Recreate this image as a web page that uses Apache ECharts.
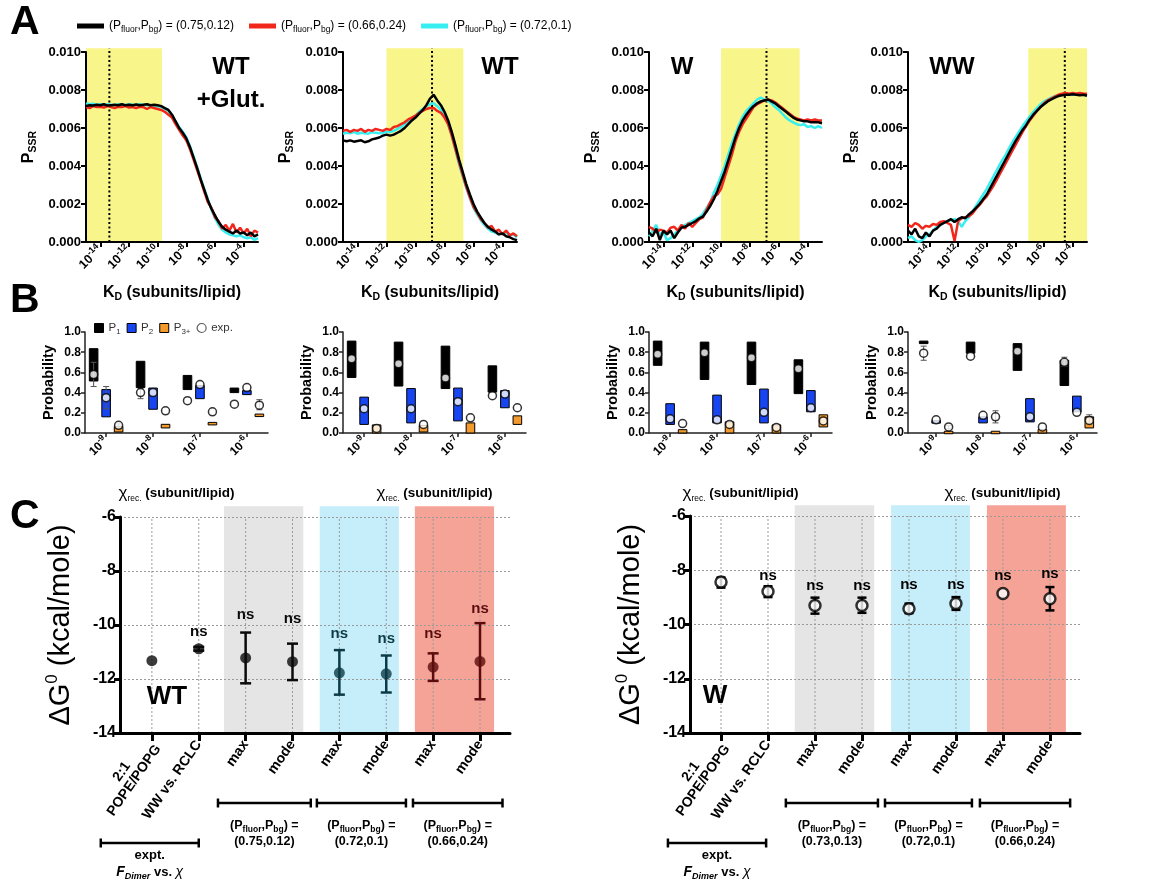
<!DOCTYPE html>
<html>
<head>
<meta charset="utf-8">
<title>Figure</title>
<script src="https://cdn.jsdelivr.net/npm/echarts@6/dist/echarts.min.js"></script>
<style>
html,body{margin:0;padding:0;background:#fff;}
#chart{width:1160px;height:881px;}
</style>
</head>
<body>
<div id="chart"></div>
<script>
// ================= PANEL A : P_SSR (x 1e-3) vs log10(K_D) =================
const kdLog = [-15,-14.75,-14.5,-14.25,-14,-13.75,-13.5,-13.25,-13,-12.75,-12.5,-12.25,-12,-11.75,-11.5,-11.25,-11,-10.75,-10.5,-10.25,-10,-9.75,-9.5,-9.25,-9,-8.75,-8.5,-8.25,-8,-7.75,-7.5,-7.25,-7,-6.75,-6.5,-6.25,-6,-5.75,-5.5,-5.25,-5,-4.75,-4.5,-4.25,-4,-3.75,-3.5,-3.25,-3];
const kdLogWW = [-15.5,-15.25,-15,-14.75,-14.5,-14.25,-14,-13.75,-13.5,-13.25,-13,-12.75,-12.5,-12.25,-12,-11.75,-11.5,-11.25,-11,-10.75,-10.5,-10.25,-10,-9.75,-9.5,-9.25,-9,-8.75,-8.5,-8.25,-8,-7.75,-7.5,-7.25,-7,-6.75,-6.5,-6.25,-6,-5.75,-5.5,-5.25,-5,-4.75,-4.5,-4.25,-4,-3.75,-3.5,-3.25,-3];
const aTickValues = [-14,-12,-10,-8,-6,-4];

const aWTglutBlack = [7.15,7.2,7.18,7.22,7.2,7.25,7.18,7.2,7.22,7.2,7.25,7.2,7.22,7.2,7.24,7.2,7.22,7.25,7.2,7.22,7.2,7.15,7.05,6.95,6.7,6.35,6.0,5.75,5.45,5.0,4.45,3.9,3.3,2.75,2.2,1.75,1.4,1.05,0.8,0.65,0.55,0.45,0.6,0.45,0.5,0.35,0.5,0.3,0.4];
const aWTglutRed   = [7.1,7.05,7.15,7.1,7.12,7.08,7.15,7.1,7.05,7.12,7.1,7.15,7.08,7.1,7.05,7.12,7.1,7.0,7.1,7.05,7.0,6.95,6.85,6.7,6.55,6.2,5.9,5.6,5.35,4.9,4.35,3.8,3.25,2.65,2.1,1.8,1.3,1.1,0.7,0.9,0.6,0.95,0.5,0.75,0.45,0.7,0.3,0.6,0.5];
const aWTglutCyan  = [7.3,7.25,7.28,7.22,7.25,7.2,7.25,7.22,7.2,7.25,7.22,7.2,7.25,7.22,7.2,7.25,7.22,7.2,7.2,7.18,7.15,7.1,7.0,6.9,6.65,6.35,6.05,5.8,5.5,5.05,4.5,3.95,3.35,2.8,2.25,1.7,1.25,0.9,0.65,0.5,0.4,0.35,0.3,0.35,0.25,0.2,0.25,0.1,0.2];

const aWTBlack = [5.35,5.3,5.35,5.28,5.32,5.35,5.25,5.3,5.4,5.45,5.5,5.6,5.65,5.6,5.65,5.75,5.85,6.0,6.2,6.4,6.55,6.75,6.95,7.2,7.55,7.75,7.45,7.2,6.85,6.4,5.8,5.1,4.35,3.7,3.05,2.5,2.0,1.6,1.3,1.0,0.8,0.65,0.55,0.4,0.45,0.3,0.25,0.15,0.1];
const aWTRed   = [5.85,5.9,5.8,5.9,5.85,5.95,5.8,5.9,5.85,5.95,5.9,5.85,5.95,5.9,6.05,6.1,6.2,6.3,6.45,6.55,6.65,6.8,6.9,7.0,7.05,7.05,6.9,6.8,6.55,6.2,5.6,4.9,4.2,3.55,2.9,2.35,1.85,1.55,1.2,1.0,0.75,0.85,0.55,0.65,0.4,0.6,0.35,0.45,0.3];
const aWTCyan  = [5.7,5.75,5.72,5.78,5.7,5.75,5.72,5.7,5.78,5.75,5.72,5.75,5.8,5.78,5.85,5.95,6.05,6.2,6.35,6.5,6.65,6.85,7.0,7.15,7.25,7.3,7.15,6.95,6.65,6.2,5.6,4.85,4.1,3.45,2.85,2.3,1.8,1.45,1.15,0.9,0.7,0.55,0.5,0.4,0.45,0.5,0.35,0.4,0.25];

const aWBlack = [0.5,0.3,0.7,0.1,0.6,0.4,0.6,0.2,0.5,0.75,0.8,0.9,1.0,1.1,1.25,1.35,1.6,1.9,2.25,2.7,3.2,3.7,4.3,4.9,5.5,6.0,6.4,6.7,6.95,7.15,7.3,7.4,7.45,7.5,7.4,7.3,7.15,7.0,6.85,6.7,6.55,6.45,6.4,6.35,6.35,6.3,6.3,6.3,6.25];
const aWRed   = [0.8,0.7,0.5,0.65,0.6,0.5,0.75,0.8,0.6,0.9,0.7,1.0,0.8,1.0,1.2,1.3,1.7,2.1,2.4,2.5,2.8,3.4,4.0,4.6,5.3,5.8,6.2,6.5,6.8,7.1,7.25,7.35,7.45,7.5,7.45,7.35,7.2,7.05,6.9,6.75,6.6,6.5,6.45,6.4,6.45,6.4,6.45,6.4,6.4];
const aWCyan  = [0.3,0.6,0.9,0.4,0.5,0.1,0.2,0.4,0.6,0.8,0.9,1.0,1.1,1.2,1.3,1.5,1.8,2.1,2.6,3.0,3.5,4.0,4.6,5.2,5.7,6.2,6.6,6.9,7.1,7.3,7.5,7.6,7.5,7.45,7.3,7.1,6.95,6.75,6.55,6.4,6.3,6.2,6.15,6.2,6.05,6.1,6.0,6.1,6.0];

const aWWBlack = [0.6,0.4,0.7,0.3,0.2,0.5,0.3,0.6,0.7,0.9,1.0,1.1,1.2,1.05,1.2,1.3,1.25,1.45,1.6,1.8,2.0,2.25,2.5,2.85,3.2,3.55,3.9,4.25,4.6,4.95,5.3,5.6,5.9,6.15,6.45,6.7,6.9,7.1,7.25,7.4,7.5,7.6,7.68,7.72,7.75,7.75,7.78,7.75,7.72,7.75,7.7];
const aWWRed   = [0.9,0.8,1.0,0.9,0.7,0.85,0.8,0.95,0.9,1.05,1.1,1.0,0.9,0.05,1.1,1.25,1.3,1.35,1.5,1.75,1.95,2.2,2.4,2.7,3.0,3.35,3.7,4.05,4.4,4.75,5.1,5.45,5.8,6.1,6.4,6.65,6.9,7.1,7.3,7.45,7.55,7.65,7.75,7.8,7.85,7.8,7.85,7.8,7.85,7.8,7.8];
const aWWCyan  = [0.2,0.3,0.1,0.0,0.1,0.3,0.4,0.6,0.8,0.9,1.0,1.1,1.15,1.2,1.1,0.8,1.1,1.3,1.6,1.9,2.2,2.5,2.8,3.15,3.5,3.85,4.2,4.5,4.85,5.2,5.5,5.8,6.1,6.35,6.6,6.85,7.05,7.25,7.4,7.5,7.6,7.68,7.72,7.75,7.75,7.78,7.75,7.78,7.75,7.75,7.72];

const aShadeFrom = [-15,-12,-10,-7.1];
const aShadeTo   = [-9.7,-6.7,-4.55,-3];
const aDotted    = [-13.37,-8.86,-6.85,-4.55];
const aLegendNames = ['(Pfluor,Pbg) = (0.75,0.12)','(Pfluor,Pbg) = (0.66,0.24)','(Pfluor,Pbg) = (0.72,0.1)'];

// ================= PANEL B : probabilities =================
const bTickExp = ['-9','-8','-7','-6'];
const bWTglutP1 = [[0.515,0.835],[0.45,0.71],[0.43,0.57],[0.40,0.445]];
const bWTglutP2 = [[0.16,0.43],[0.235,0.445],[0.34,0.47],[0.38,0.42]];
const bWTglutP3 = [[0.01,0.066],[0.05,0.086],[0.08,0.105],[0.17,0.18]];
const bWTglutExp = [[0.58,0.35,0.076],[0.40,0.40,0.22],[0.32,0.48,0.21],[0.285,0.45,0.275]];
const bWTglutErr = [[0,0,0.46,0.70],[0,1,0.24,0.46],[0,2,0.06,0.09],[1,0,0.34,0.44],[3,2,0.23,0.33]];

const bWTP1 = [[0.55,0.91],[0.465,0.90],[0.44,0.86],[0.405,0.665]];
const bWTP2 = [[0.085,0.355],[0.10,0.44],[0.12,0.445],[0.25,0.42]];
const bWTP3 = [[0.0,0.08],[0.01,0.075],[0.0,0.10],[0.085,0.17]];
const bWTExp = [[0.735,0.24,0.045],[0.685,0.24,0.085],[0.545,0.31,0.15],[0.37,0.385,0.25]];
const bWTErr = [];

const bWP1 = [[0.67,0.91],[0.53,0.90],[0.48,0.90],[0.39,0.725]];
const bWP2 = [[0.085,0.29],[0.10,0.375],[0.10,0.435],[0.21,0.42]];
const bWP3 = [[0.0,0.033],[0.0,0.11],[0.0,0.08],[0.06,0.18]];
const bWExp = [[0.78,0.14,0.093],[0.795,0.13,0.085],[0.745,0.205,0.055],[0.635,0.25,0.12]];
const bWErr = [];

const bWWP1 = [[0.885,0.91],[0.79,0.90],[0.62,0.885],[0.47,0.72]];
const bWWP2 = [[0.10,0.12],[0.10,0.16],[0.11,0.34],[0.21,0.365]];
const bWWP3 = [[0.0,0.01],[0.0,0.01],[0.0,0.035],[0.05,0.16]];
const bWWExp = [[0.79,0.13,0.06],[0.76,0.175,0.16],[0.81,0.16,0.06],[0.70,0.205,0.125]];
const bWWErr = [[0,0,0.72,0.86],[0,2,0.04,0.075],[1,2,0.10,0.22],[3,0,0.66,0.75],[3,2,0.09,0.18]];

// ================= PANEL C : Delta G =================
const cCats = ['2:1\nPOPE/POPG','WW vs. RCLC','max','mode','max','mode','max','mode'];
const cPos = [0,1,2,3,4,5,6,7];
const cWTMean = [-11.32,-10.88,-11.22,-11.36,-11.77,-11.81,-11.56,-11.35];
const cWTLo   = [null,-10.95,-12.16,-12.04,-12.58,-12.5,-12.07,-12.75];
const cWTHi   = [null,-10.81,-10.28,-10.69,-10.93,-11.13,-11.05,-9.93];
const cWTns   = [null,-10.25,-9.63,-9.79,-10.34,-10.52,-10.34,-9.41];
const cWMean = [-8.43,-8.78,-9.3,-9.3,-9.42,-9.23,-8.86,-9.05];
const cWLo   = [-8.64,-8.99,-9.6,-9.57,-9.58,-9.46,null,-9.48];
const cWHi   = [-8.27,-8.59,-9.01,-9.01,-9.23,-8.99,null,-8.62];
const cWns   = [null,-8.19,-8.56,-8.56,-8.53,-8.53,-8.19,-8.15];
const cWTShade = [[1.54,3.23],[3.58,5.27],[5.61,7.30]];
const cWShade  = [[1.57,3.26],[3.62,5.30],[5.66,7.34]];
const cWTBrackets = [[-1.09,1.0],[1.41,3.39],[3.52,5.42],[5.57,7.48]];
const cWBrackets  = [[-1.13,0.96],[1.38,3.34],[3.49,5.34],[5.51,7.43]];
const cWTPairs = ['(0.75,0.12)','(0.72,0.1)','(0.66,0.24)'];
const cWPairs  = ['(0.73,0.13)','(0.72,0.1)','(0.66,0.24)'];

// ================= styling / layout =================
const FONT = '"Liberation Sans", Arial, Helvetica, sans-serif';
const curveColors = ['#37eef0','#f2271b','#000000'];
const curveNames = [aLegendNames[2], aLegendNames[1], aLegendNames[0]];
const aCurves = [
  [aWTglutCyan, aWTglutRed, aWTglutBlack],
  [aWTCyan, aWTRed, aWTBlack],
  [aWCyan, aWRed, aWBlack],
  [aWWCyan, aWWRed, aWWBlack]
];
const aXs = [kdLog, kdLog, kdLog, kdLogWW];
const aXMin = [-15,-15,-15,-15.5];
const aShadeTop = 10.2;

const bPanels = [
  {p:[bWTglutP1,bWTglutP2,bWTglutP3], exp:bWTglutExp, err:bWTglutErr},
  {p:[bWTP1,bWTP2,bWTP3], exp:bWTExp, err:bWTErr},
  {p:[bWP1,bWP2,bWP3], exp:bWExp, err:bWErr},
  {p:[bWWP1,bWWP2,bWWP3], exp:bWWExp, err:bWWErr}
];
const bXMin = [-0.45,-0.45,-0.45,-0.6];
const bXMax = [3.45,3.45,3.45,3.43];
const bSlot = [-0.266, 0, 0.266];
const bColors = ['#000000','#1845f2','#f4992c'];
const bNames = ['P1','P2','P3+'];

const cWTColors = ['#0a0a0a','#0a0a0a','#0a0a0a','#0a0a0a','#0b3b46','#0b3b46','#5b0d0d','#5b0d0d'];
const shadeColors = ['#e5e5e5','#c5eefa','#f6a397'];

const grids = [
  {left:86, top:52, width:172, height:190},
  {left:343, top:52, width:174, height:190},
  {left:649, top:52, width:173, height:190},
  {left:908, top:52, width:179, height:190},
  {left:85, top:332, width:183, height:101},
  {left:343, top:332, width:183, height:101},
  {left:649, top:332, width:183, height:101},
  {left:908, top:332, width:189, height:101},
  {left:120, top:517, width:390, height:216},
  {left:690, top:516, width:390, height:217}
].map(g => Object.assign({containLabel:false, outerBoundsMode:'none'}, g));

function supRich(main, small, weight, color) {
  weight = weight || 'bold'; color = color || '#000';
  return {
    b:{fontSize:main, fontWeight:weight, fontFamily:FONT, color:color, lineHeight:main+5},
    s:{fontSize:small, fontWeight:weight, fontFamily:FONT, color:color, lineHeight:small+1, verticalAlign:'top'}
  };
}
function subRich(main, small, weight, color) {
  weight = weight || 'bold'; color = color || '#000';
  return {
    b:{fontSize:main, fontWeight:weight, fontFamily:FONT, color:color, lineHeight:main+4},
    s:{fontSize:small, fontWeight:weight, fontFamily:FONT, color:color, lineHeight:small+1, verticalAlign:'bottom'}
  };
}

const xAxes = [], yAxes = [], series = [];

// ---------- A ----------
for (let p = 0; p < 4; p++) {
  xAxes.push({
    type:'value', gridIndex:p, min:aXMin[p], max:-3,
    axisLine:{show:true, onZero:false, lineStyle:{color:'#000', width:2}},
    axisTick:{show:true, customValues:aTickValues, length:5, lineStyle:{color:'#000', width:2}},
    axisLabel:{show:true, customValues:aTickValues, rotate:45, margin:6,
      formatter: v => '{b|10}{s|' + v + '}', rich:supRich(12.5, 9)},
    splitLine:{show:false},
    name:'{b|K}{s|D}{b| (subunits/lipid)}', nameLocation:'middle', nameGap:41,
    nameTextStyle:{rich:subRich(16, 10.5)}
  });
  yAxes.push({
    type:'value', gridIndex:p, min:0, max:10, interval:2,
    axisLine:{show:true, onZero:false, lineStyle:{color:'#000', width:2}},
    axisTick:{show:true, length:5, lineStyle:{color:'#000', width:2}},
    axisLabel:{formatter: v => (v/1000).toFixed(3), fontSize:13, fontWeight:'bold', color:'#000', fontFamily:FONT, margin:5},
    splitLine:{show:false},
    name:'{b|P}{s|SSR}', nameLocation:'middle', nameGap:47,
    nameTextStyle:{rich:subRich(16, 10.5)}
  });
  series.push({
    type:'custom', xAxisIndex:p, yAxisIndex:p, clip:false, silent:true, z:-1,
    data:[[aShadeFrom[p], aShadeTo[p], aShadeTop]], encode:{x:[0,1], y:2},
    renderItem:(params, api) => {
      const a = api.coord([api.value(0), 0]);
      const b = api.coord([api.value(1), api.value(2)]);
      return {type:'rect', shape:{x:a[0], y:b[1], width:b[0]-a[0], height:a[1]-b[1]}, style:{fill:'#f8f68a'}};
    }
  });
  series.push({
    type:'custom', xAxisIndex:p, yAxisIndex:p, clip:false, silent:true, z:1,
    data:[[aDotted[p], aShadeTop]], encode:{x:0, y:1},
    renderItem:(params, api) => {
      const a = api.coord([api.value(0), 0]);
      const b = api.coord([api.value(0), api.value(1)]);
      return {type:'line', shape:{x1:a[0], y1:a[1], x2:b[0], y2:b[1]}, style:{stroke:'#000', lineWidth:2, lineDash:[2,2.5]}};
    }
  });
  for (let c = 0; c < 3; c++) {
    const xs = aXs[p], ys = aCurves[p][c];
    series.push({
      type:'line', name:curveNames[c], xAxisIndex:p, yAxisIndex:p, silent:true,
      data: xs.map((x, i) => [x, ys[i]]),
      symbol:'none', showSymbol:false, z:2 + c,
      lineStyle:{color:curveColors[c], width:2.5}, itemStyle:{color:curveColors[c]}
    });
  }
}

// ---------- B ----------
function barRender(color) {
  return (params, api) => {
    const x = api.value(0), lo = api.value(1), hi = api.value(2);
    const a = api.coord([x, hi]), b = api.coord([x, lo]);
    let y = a[1], h = b[1] - a[1];
    if (h < 2.5) { y = (a[1] + b[1]) / 2 - 1.25; h = 2.5; }
    return {type:'rect', shape:{x:a[0]-4.3, y:y, width:8.6, height:h}, style:{fill:color, stroke:'#000', lineWidth:1}};
  };
}
function errRender(colorFn, cap, lw) {
  return (params, api) => {
    const x = api.value(0), lo = api.value(1), hi = api.value(2);
    const a = api.coord([x, hi]), b = api.coord([x, lo]);
    const col = colorFn(api);
    const st = {stroke:col, lineWidth:lw};
    return {type:'group', children:[
      {type:'line', shape:{x1:a[0], y1:a[1], x2:b[0], y2:b[1]}, style:st},
      {type:'line', shape:{x1:a[0]-cap/2, y1:a[1], x2:a[0]+cap/2, y2:a[1]}, style:st},
      {type:'line', shape:{x1:b[0]-cap/2, y1:b[1], x2:b[0]+cap/2, y2:b[1]}, style:st}
    ]};
  };
}
for (let p = 0; p < 4; p++) {
  const gi = 4 + p;
  xAxes.push({
    type:'value', gridIndex:gi, min:bXMin[p], max:bXMax[p],
    axisLine:{show:true, onZero:false, lineStyle:{color:'#222', width:1.5}},
    axisTick:{show:true, customValues:[0,1,2,3], length:4, lineStyle:{color:'#222', width:1.5}},
    axisLabel:{show:true, customValues:[0,1,2,3], rotate:45, margin:6,
      formatter: v => '{b|10}{s|' + bTickExp[v] + '}', rich:supRich(12, 8.5)},
    splitLine:{show:false},
    name:'{c|χ}{r|rec.}{b| (subunit/lipid)}', nameLocation:'middle', nameGap:50,
    nameTextStyle:{rich:{
      c:{fontSize:17, fontFamily:FONT, color:'#000', lineHeight:20},
      r:{fontSize:8.5, fontFamily:FONT, color:'#000', lineHeight:9, verticalAlign:'bottom'},
      b:{fontSize:13.5, fontWeight:'bold', fontFamily:FONT, color:'#000', lineHeight:20}
    }}
  });
  yAxes.push({
    type:'value', gridIndex:gi, min:0, max:1, interval:0.2,
    axisLine:{show:true, onZero:false, lineStyle:{color:'#222', width:1.5}},
    axisTick:{show:true, length:4, lineStyle:{color:'#222', width:1.5}},
    axisLabel:{formatter: v => v.toFixed(1), fontSize:12, fontWeight:'bold', color:'#000', fontFamily:FONT, margin:4},
    splitLine:{show:false},
    name:'Probability', nameLocation:'middle', nameGap:29,
    nameTextStyle:{fontSize:14.5, fontWeight:'bold', color:'#000', fontFamily:FONT}
  });
  const P = bPanels[p];
  for (let k = 0; k < 3; k++) {
    series.push({
      type:'custom', name:bNames[k], xAxisIndex:gi, yAxisIndex:gi, silent:true, z:2,
      itemStyle:{color:bColors[k]},
      data: P.p[k].map((r, g) => [g + bSlot[k], r[0], r[1]]), encode:{x:0, y:[1,2]},
      renderItem: barRender(bColors[k])
    });
  }
  if (P.err.length) {
    series.push({
      type:'custom', xAxisIndex:gi, yAxisIndex:gi, silent:true, z:3,
      data: P.err.map(e => [e[0] + bSlot[e[1]], e[2], e[3]]), encode:{x:0, y:[1,2]},
      renderItem: errRender(() => '#555', 6, 1)
    });
  }
  const pts = [];
  P.exp.forEach((row, g) => row.forEach((v, k) => pts.push([g + bSlot[k], v])));
  series.push({
    type:'scatter', name:'exp.', xAxisIndex:gi, yAxisIndex:gi, silent:true, z:4,
    data: pts, symbol:'circle', symbolSize:8,
    itemStyle:{color:'#fff', borderColor:'#000', borderWidth:1.5}
  });
}

// ---------- C ----------
const cPanels = [
  {mean:cWTMean, lo:cWTLo, hi:cWTHi, ns:cWTns, shade:cWTShade, filled:true},
  {mean:cWMean, lo:cWLo, hi:cWHi, ns:cWns, shade:cWShade, filled:false}
];
const cXMin = [-0.68,-0.66];
const cXMax = [7.64,7.64];
const cLabelRich = {
  b:{fontSize:14, fontWeight:'bold', color:'#000', fontFamily:FONT, lineHeight:15},
  c:{fontSize:14, fontWeight:'bold', color:'#000', fontFamily:FONT, lineHeight:15, align:'center'}
};
function cLabel(v) {
  const t = cCats[v];
  if (t.indexOf('\n') >= 0) {
    const parts = t.split('\n');
    return '{c|' + parts[0] + '}\n{b|' + parts[1] + '}';
  }
  return '{b|' + t + '}';
}
for (let p = 0; p < 2; p++) {
  const gi = 8 + p, C = cPanels[p];
  xAxes.push({
    type:'value', gridIndex:gi, min:cXMin[p], max:cXMax[p],
    axisLine:{show:true, onZero:false, lineStyle:{color:'#000', width:3}},
    axisTick:{show:true, customValues:cPos, length:8, lineStyle:{color:'#000', width:3}},
    axisLabel:{show:true, customValues:cPos, rotate:55, margin:9,
      formatter: cLabel, rich:cLabelRich},
    splitLine:{show:false}
  });
  yAxes.push({
    type:'value', gridIndex:gi, min:-14, max:-6, interval:2,
    axisLine:{show:true, onZero:false, lineStyle:{color:'#000', width:3}},
    axisTick:{show:true, length:6, lineStyle:{color:'#000', width:3}},
    axisLabel:{fontSize:16, fontWeight:'bold', color:'#000', fontFamily:FONT, margin:4},
    splitLine:{show:true, lineStyle:{color:'#9a9a9a', width:1, type:[2,2]}},
    name:'{r|ΔG}{sup|0}{r| (kcal/mole)}', nameLocation:'middle', nameGap:42,
    nameTextStyle:{rich:{
      r:{fontSize:29, fontFamily:FONT, color:'#000', lineHeight:34},
      sup:{fontSize:17, fontFamily:FONT, color:'#000', lineHeight:17, verticalAlign:'top'}
    }}
  });
  series.push({
    type:'custom', xAxisIndex:gi, yAxisIndex:gi, clip:false, silent:true, z:-1,
    data: C.shade.map((s, i) => [s[0], s[1], i]), encode:{x:[0,1]},
    renderItem:(params, api) => {
      const a = api.coord([api.value(0), -14]);
      const b = api.coord([api.value(1), -5.6]);
      return {type:'rect', shape:{x:a[0], y:b[1], width:b[0]-a[0], height:a[1]-b[1]}, style:{fill:shadeColors[api.value(2)]}};
    }
  });
  series.push({
    type:'custom', xAxisIndex:gi, yAxisIndex:gi, silent:true, z:0,
    data: cPos.map(v => [v]), encode:{x:0},
    renderItem:(params, api) => {
      const a = api.coord([api.value(0), -14]);
      const b = api.coord([api.value(0), -6]);
      return {type:'line', shape:{x1:a[0], y1:a[1], x2:b[0], y2:b[1]}, style:{stroke:'#9a9a9a', lineWidth:1, lineDash:[2,2]}};
    }
  });
  const eb = [];
  C.mean.forEach((m, i) => { if (C.lo[i] !== null) eb.push([cPos[i], C.lo[i], C.hi[i]]); });
  series.push({
    type:'custom', xAxisIndex:gi, yAxisIndex:gi, silent:true, z:3,
    data: eb, encode:{x:0, y:[1,2]},
    renderItem: errRender(api => C.filled ? cWTColors[api.value(0)] : '#000', C.filled ? 11 : 9, 2.5)
  });
  series.push({
    type:'scatter', xAxisIndex:gi, yAxisIndex:gi, silent:true, z:4,
    symbol:'circle', symbolSize:11,
    data: C.mean.map((m, i) => ({
      value:[cPos[i], m],
      itemStyle: C.filled ? {color:cWTColors[i], borderColor:cWTColors[i], borderWidth:0}
                          : {color:'#fff', borderColor:'#000', borderWidth:2.5}
    }))
  });
  const nsData = [];
  C.ns.forEach((v, i) => { if (v !== null) nsData.push([cPos[i], v]); });
  series.push({
    type:'custom', xAxisIndex:gi, yAxisIndex:gi, silent:true, z:5,
    data: nsData, encode:{x:0, y:1},
    renderItem:(params, api) => {
      const pt = api.coord([api.value(0), api.value(1)]);
      const col = C.filled ? cWTColors[api.value(0)] : '#000';
      return {type:'text', x:pt[0], y:pt[1], style:{text:'ns', fill:col, font:'bold 15px ' + FONT,
        align:'center', verticalAlign:'middle', textAlign:'center', textVerticalAlign:'middle'}};
    }
  });
}

// ---------- legends ----------
const legA = {
  left:72, top:15, orient:'horizontal', itemWidth:27, itemHeight:5, itemGap:15, icon:'rect',
  data:[aLegendNames[0], aLegendNames[1], aLegendNames[2]],
  selectedMode:false,
  formatter: name => '{n|(P}{s|fluor}{n|,P}{s|bg}{n|) = ' + name.split('= ')[1] + '}',
  textStyle:{rich:{
    n:{fontSize:12, fontFamily:FONT, color:'#000', lineHeight:16},
    s:{fontSize:8.5, fontFamily:FONT, color:'#000', lineHeight:9, verticalAlign:'bottom'}
  }}
};
const bLegendText = {'P1':'{n|P}{s|1}', 'P2':'{n|P}{s|2}', 'P3+':'{n|P}{s|3+}', 'exp.':'{n|exp.}'};
const legB = {
  left:89, top:317, orient:'horizontal', itemWidth:9, itemHeight:9, itemGap:6,
  selectedMode:false,
  data:[
    {name:'P1', icon:'rect', itemStyle:{color:'#000', borderColor:'#000', borderWidth:1}},
    {name:'P2', icon:'rect', itemStyle:{color:bColors[1], borderColor:'#000', borderWidth:1}},
    {name:'P3+', icon:'rect', itemStyle:{color:bColors[2], borderColor:'#000', borderWidth:1}},
    {name:'exp.', icon:'circle', itemStyle:{color:'#fff', borderColor:'#333', borderWidth:1.2}}
  ],
  formatter: name => bLegendText[name],
  textStyle:{rich:{
    n:{fontSize:11.5, fontFamily:FONT, color:'#333', lineHeight:15},
    s:{fontSize:8, fontFamily:FONT, color:'#333', lineHeight:9, verticalAlign:'bottom'}
  }}
};

const chart = echarts.init(document.getElementById('chart'), null, {renderer:'canvas'});
chart.setOption({
  animation:false,
  backgroundColor:'#fff',
  textStyle:{fontFamily:FONT},
  tooltip:{show:false},
  grid:grids, xAxis:xAxes, yAxis:yAxes, series:series,
  legend:[legA, legB]
});

// ---------- text annotations ----------
function txt(x, y, text, font, extra) {
  return Object.assign({type:'text', x:x, y:y, silent:true, z:10,
    style:Object.assign({text:text, font:font, fill:'#000', align:'center', verticalAlign:'middle', textAlign:'center', textVerticalAlign:'middle'}, extra || {})});
}
function richTxt(x, y, text, rich) {
  return {type:'text', x:x, y:y, silent:true, z:10,
    style:{text:text, rich:rich, fill:'#000', align:'center', verticalAlign:'middle', textAlign:'center', textVerticalAlign:'middle'}};
}
const g = [];
g.push(txt(10, 23, 'A', 'bold 41px ' + FONT, {align:'left', textAlign:'left'}));
g.push(txt(10, 301, 'B', 'bold 41px ' + FONT, {align:'left', textAlign:'left'}));
g.push(txt(10, 517, 'C', 'bold 41px ' + FONT, {align:'left', textAlign:'left'}));
g.push(txt(231, 67, 'WT', 'bold 24px ' + FONT));
g.push(txt(231, 100, '+Glut.', 'bold 24px ' + FONT));
g.push(txt(500, 67, 'WT', 'bold 24px ' + FONT));
g.push(txt(682, 67, 'W', 'bold 24px ' + FONT));
g.push(txt(952, 67, 'WW', 'bold 24px ' + FONT));
g.push(txt(167, 697, 'WT', 'bold 26px ' + FONT));
g.push(txt(715, 696, 'W', 'bold 26px ' + FONT));

const pairRich = {
  b:{fontSize:12.5, fontWeight:'bold', fontFamily:FONT, color:'#000', lineHeight:16},
  s:{fontSize:8.5, fontWeight:'bold', fontFamily:FONT, color:'#000', lineHeight:9, verticalAlign:'bottom'}
};
const fRich = {
  f:{fontSize:14, fontWeight:'bold', fontStyle:'italic', fontFamily:FONT, color:'#000', lineHeight:18},
  fs:{fontSize:9, fontWeight:'bold', fontStyle:'italic', fontFamily:FONT, color:'#000', lineHeight:9, verticalAlign:'bottom'},
  b:{fontSize:13, fontWeight:'bold', fontFamily:FONT, color:'#000', lineHeight:18},
  x:{fontSize:14, fontStyle:'italic', fontFamily:FONT, color:'#000', lineHeight:18}
};
function bracket(x1, x2, y) {
  const st = {stroke:'#000', lineWidth:2.5};
  return {type:'group', silent:true, z:10, children:[
    {type:'line', shape:{x1:x1, y1:y, x2:x2, y2:y}, style:st},
    {type:'line', shape:{x1:x1, y1:y-4.5, x2:x1, y2:y+4.5}, style:st},
    {type:'line', shape:{x1:x2, y1:y-4.5, x2:x2, y2:y+4.5}, style:st}
  ]};
}
[[8, cWTBrackets, cWTPairs], [9, cWBrackets, cWPairs]].forEach(([ax, brs, pairs]) => {
  const base = 733;
  brs.forEach((br, i) => {
    const x1 = chart.convertToPixel({xAxisIndex:ax}, br[0]);
    const x2 = chart.convertToPixel({xAxisIndex:ax}, br[1]);
    const cx = (x1 + x2) / 2;
    if (i === 0) {
      g.push(bracket(x1, x2, base + 110));
      g.push(txt(cx, base + 122, 'expt.', 'bold 13px ' + FONT));
      g.push(richTxt(cx, base + 139, '{f|F}{fs|Dimer}{b| vs. }{x|χ}', fRich));
    } else {
      g.push(bracket(x1, x2, base + 70));
      g.push(richTxt(cx, base + 93, '{b|(P}{s|fluor}{b|,P}{s|bg}{b|) =}', pairRich));
      g.push(richTxt(cx, base + 109, '{b|' + pairs[i-1] + '}', pairRich));
    }
  });
});
chart.setOption({graphic:{elements:g}});
</script>
</body>
</html>
